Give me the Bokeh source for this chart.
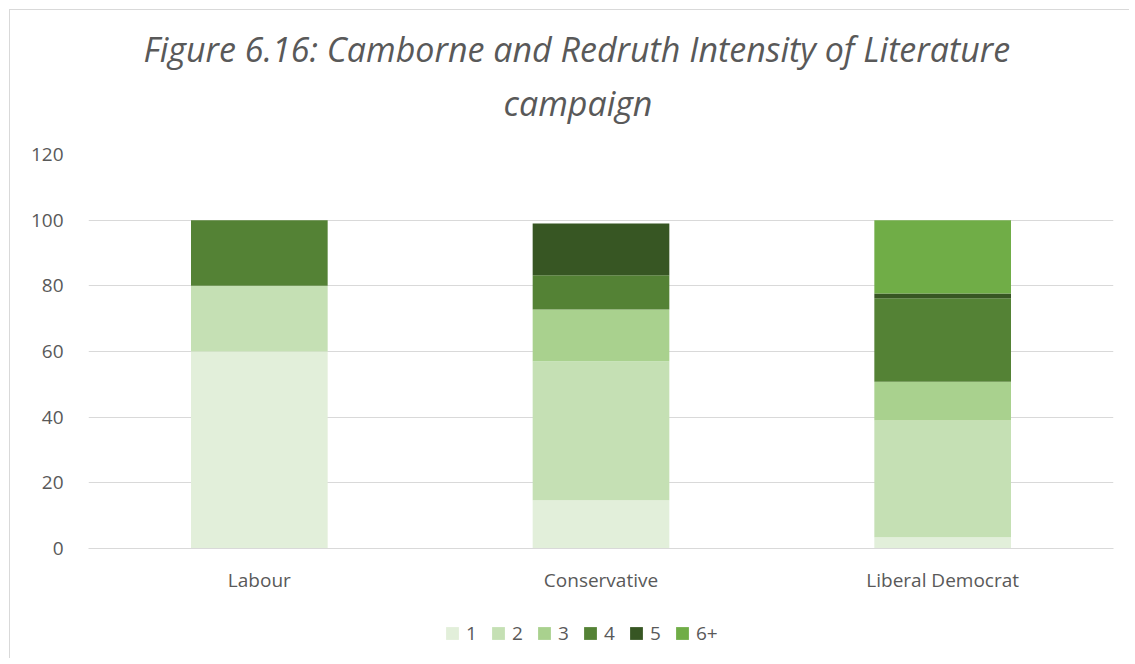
from bokeh.plotting import figure
from bokeh.layouts import column
from bokeh.models import ColumnDataSource, Legend, LegendItem, Title
from bokeh.embed import file_html
from bokeh.resources import INLINE

parties = ["Labour", "Conservative", "Liberal Democrat"]
levels = ["1", "2", "3", "4", "5", "6+"]
v1 = [60.0, 14.7, 3.4]
v2 = [20.0, 42.3, 35.6]
v3 = [0.0, 15.8, 11.8]
v4 = [20.0, 10.4, 25.4]
v5 = [0.0, 15.8, 1.5]
v6 = [0.0, 0.0, 22.3]
colors = ["#e2efda", "#c5e0b4", "#a9d18e", "#548235", "#375623", "#70ad47"]
yticks = [0, 20, 40, 60, 80, 100, 120]

TXT = "#595959"
FONT = "Open Sans"

src = ColumnDataSource(dict(party=parties, **{"1": v1, "2": v2, "3": v3, "4": v4, "5": v5, "6+": v6}))

p = figure(x_range=parties, y_range=(0, 120), width=1119, height=600,
           output_backend="svg", toolbar_location=None,
           min_border_left=78, min_border_right=16, min_border_top=144, min_border_bottom=62)

t2 = Title(text="campaign", align="left", text_font=FONT, text_font_style="italic",
           text_font_size="34px", text_color=TXT, standoff=57, offset=415)
t1 = Title(text="Figure 6.16: Camborne and Redruth Intensity of Literature", align="left",
           text_font=FONT, text_font_style="italic", text_font_size="34px",
           text_color=TXT, standoff=-45, offset=55)
p.title = None
p.add_layout(t2, "above")
p.add_layout(t1, "above")

p.vbar_stack(levels, x="party", width=0.40, color=colors, source=src, line_width=0)

p.outline_line_color = None
p.border_fill_color = "white"
p.xgrid.grid_line_color = None
p.ygrid.grid_line_color = "#d9d9d9"
p.ygrid.grid_line_width = 1
p.yaxis.ticker = yticks
p.yaxis.axis_line_color = None
p.yaxis.major_tick_line_color = None
p.yaxis.minor_tick_line_color = None
p.yaxis.major_label_text_font = FONT
p.yaxis.major_label_text_font_size = "19px"
p.yaxis.major_label_text_color = TXT
p.yaxis.major_label_standoff = 19
p.xaxis.axis_line_color = "#d9d9d9"
p.xaxis.major_tick_line_color = None
p.xaxis.minor_tick_line_color = None
p.xaxis.major_label_text_font = FONT
p.xaxis.major_label_text_font_size = "19px"
p.xaxis.major_label_text_color = TXT
p.xaxis.major_label_standoff = 12
p.x_range.range_padding = 0.0

# legend strip below the chart
lg = figure(width=1119, height=48, x_range=(0, 1), y_range=(0, 1),
            output_backend="svg", toolbar_location=None,
            min_border_left=0, min_border_right=0, min_border_top=0, min_border_bottom=0)
lg.axis.visible = False
lg.grid.visible = False
lg.outline_line_color = None
lg.border_fill_color = "white"
dummies = [lg.vbar(x=[-5], top=[-5], bottom=[-6], width=0.1, fill_color=c, line_color=c, line_width=0)
           for c in colors]
items = [LegendItem(label=l, renderers=[r]) for l, r in zip(levels, dummies)]
legend = Legend(items=items, orientation="horizontal", location=(356, 12),
                label_text_font=FONT, label_text_font_size="19px", label_text_color=TXT,
                glyph_width=16, glyph_height=16, spacing=4, label_standoff=6,
                border_line_color=None, background_fill_alpha=0, padding=0, margin=0)
lg.add_layout(legend, "center")

layout = column(p, lg, spacing=0,
                styles={"margin-left": "9px", "margin-top": "9px",
                        "border-left": "1px solid #d9d9d9", "border-top": "1px solid #d9d9d9"})

open("out.html", "w").write(file_html(layout, INLINE))
